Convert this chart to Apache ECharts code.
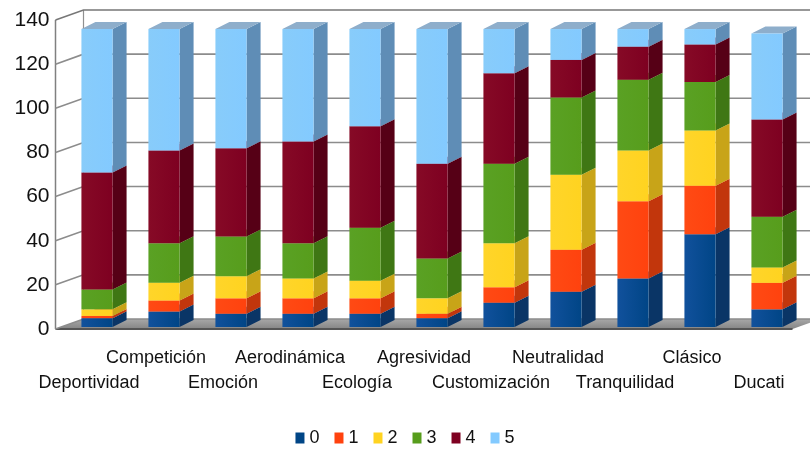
<!DOCTYPE html>
<html>
<head>
<meta charset="utf-8">
<script src="https://cdn.jsdelivr.net/npm/echarts@6/dist/echarts.min.js"></script>
<style>
  html, body { margin: 0; padding: 0; background: #ffffff; }
  #chart { width: 810px; height: 456px; }
</style>
</head>
<body>
<div id="chart"></div>
<script>
// Categories (attributes rated) and the count of answers per rating 0..5
const categories = ['Deportividad', 'Competición', 'Emoción', 'Aerodinámica', 'Ecología',
  'Agresividad', 'Customización', 'Neutralidad', 'Tranquilidad', 'Clásico', 'Ducati'];
const seriesNames = ['0', '1', '2', '3', '4', '5'];
const rating0 = [4, 7, 6, 6, 6, 4, 11, 16, 22, 42, 8];
const rating1 = [1, 5, 7, 7, 7, 2, 7, 19, 35, 22, 12];
const rating2 = [3, 8, 10, 9, 8, 7, 20, 34, 23, 25, 7];
const rating3 = [9, 18, 18, 16, 24, 18, 36, 35, 32, 22, 23];
const rating4 = [53, 42, 40, 46, 46, 43, 41, 17, 15, 17, 44];
const rating5 = [65, 55, 54, 51, 44, 61, 20, 14, 8, 7, 39];
const yTicks = [0, 20, 40, 60, 80, 100, 120, 140];

const ratings = [rating0, rating1, rating2, rating3, rating4, rating5];
const palette = ['#004586', '#ff420e', '#ffd320', '#579d1c', '#7e0021', '#83caff'];
const frontColors = ['#11519c', '#ff4a14', '#ffd52a', '#5aa124', '#860a26', '#88ccfa'];
const sideColors = ['#0a3566', '#c2360c', '#c8a418', '#3f7714', '#560016', '#5f8db6'];
const topColors = ['#3a6fae', '#ff7a50', '#ffe06a', '#7fbb4a', '#a0304a', '#8eaecb'];

// 3D look: wall depth and bar depth in pixels
const WALL_DX = 28, WALL_DY = 10;
const BAR_DX = 14, BAR_DY = 7;
const BAR_SHIFT_X = 8, BAR_SHIFT_Y = -2;
const BAR_RATIO = 0.465;

// stacked ranges [category, base, top]
function stackedData(k) {
  return categories.map((c, i) => {
    let base = 0;
    for (let j = 0; j < k; j++) base += ratings[j][i];
    return [i, base, base + ratings[k][i]];
  });
}

function renderBar(params, api) {
  const k = params.seriesIndex - 1;
  const i = api.value(0);
  const lo = api.value(1), hi = api.value(2);
  const bw = api.size([1, 0])[0] * BAR_RATIO;
  const pLo = api.coord([i, lo]);
  const pHi = api.coord([i, hi]);
  const x0 = pLo[0] + BAR_SHIFT_X - bw / 2;
  const x1 = x0 + bw;
  const yb = pLo[1] + BAR_SHIFT_Y;
  const yt = pHi[1] + BAR_SHIFT_Y;
  return {
    type: 'group',
    children: [
      { type: 'polygon', shape: { points: [[x1, yb], [x1 + BAR_DX, yb - BAR_DY], [x1 + BAR_DX, yt - BAR_DY], [x1, yt]] },
        style: { fill: sideColors[k] } },
      { type: 'polygon', shape: { points: [[x0, yt], [x1, yt], [x1 + BAR_DX, yt - BAR_DY], [x0 + BAR_DX, yt - BAR_DY]] },
        style: { fill: topColors[k] } },
      { type: 'rect', shape: { x: x0, y: yt, width: bw, height: yb - yt },
        style: { fill: {
          type: 'linear', x: 0, y: 0, x2: 1, y2: 0,
          colorStops: [{ offset: 0, color: frontColors[k] }, { offset: 1, color: palette[k] }]
        } } }
    ]
  };
}

// left wall, back wall gridlines and floor
function renderFrame(params, api) {
  const cs = params.coordSys;
  const xL = cs.x, xR = cs.x + cs.width;
  const v = api.value(1);
  const y = api.coord([0, v])[1];
  const children = [];
  if (v === yTicks[0]) {
    const yTop = api.coord([0, yTicks[yTicks.length - 1]])[1];
    children.push({ type: 'polygon',
      shape: { points: [[xL, y], [xR, y], [xR + WALL_DX, y - WALL_DY], [xL + WALL_DX, y - WALL_DY]] },
      style: { fill: {
        type: 'linear', x: 0, y: 0, x2: 0, y2: 1,
        colorStops: [{ offset: 0, color: '#a8a8a8' }, { offset: 1, color: '#858585' }]
      } } });
    children.push({ type: 'line', shape: { x1: xL, y1: y, x2: xR, y2: y },
      style: { stroke: '#555555', lineWidth: 2 } });
    children.push({ type: 'line', shape: { x1: xL, y1: y, x2: xL, y2: yTop },
      style: { stroke: '#808080', lineWidth: 1.5 } });
    children.push({ type: 'line', shape: { x1: xL + WALL_DX, y1: y - WALL_DY, x2: xL + WALL_DX, y2: yTop - WALL_DY },
      style: { stroke: '#909090', lineWidth: 1.2 } });
  }
  children.push({ type: 'polyline',
    shape: { points: [[xL, y], [xL + WALL_DX, y - WALL_DY], [xR + WALL_DX + 20, y - WALL_DY]] },
    style: { stroke: v === yTicks[yTicks.length - 1] ? '#777777' : '#8c8c8c', lineWidth: 1.6, fill: null } });
  return { type: 'group', children: children };
}

const series = [{
  type: 'custom',
  name: 'frame',
  silent: true,
  renderItem: renderFrame,
  data: yTicks.map(v => [0, v]),
  encode: { x: 0, y: 1 },
  z: 1
}];
seriesNames.forEach((name, k) => {
  series.push({
    type: 'custom',
    name: name,
    renderItem: renderBar,
    data: stackedData(k),
    encode: { x: 0, y: [1, 2] },
    itemStyle: { color: palette[k] },
    z: 2
  });
});

const chart = echarts.init(document.getElementById('chart'), null, { renderer: 'canvas' });
chart.setOption({
  backgroundColor: '#ffffff',
  animation: false,
  grid: { left: 55.5, right: 17.5, top: 20, bottom: 127, containLabel: false },
  xAxis: {
    type: 'category',
    data: categories,
    axisLine: { show: false },
    axisTick: { show: false },
    splitLine: { show: false },
    axisLabel: {
      interval: 0,
      margin: 17,
      color: '#111111',
      fontFamily: 'Liberation Sans, Arial, sans-serif',
      fontSize: 18,
      lineHeight: 25,
      formatter: (val, idx) => (idx % 2 === 0 ? '\n' + val : val)
    }
  },
  yAxis: {
    type: 'value',
    min: 0,
    max: 140,
    interval: 20,
    axisLine: { show: false },
    axisTick: { show: false },
    splitLine: { show: false },
    axisLabel: {
      margin: 6,
      color: '#111111',
      fontFamily: 'Liberation Sans, Arial, sans-serif',
      fontSize: 21
    }
  },
  legend: {
    data: seriesNames,
    bottom: 4,
    left: 'center',
    icon: 'rect',
    itemWidth: 9,
    itemHeight: 11,
    itemGap: 15,
    textStyle: { color: '#111111', fontSize: 18, fontFamily: 'Liberation Sans, Arial, sans-serif' }
  },
  series: series
});
</script>
</body>
</html>
